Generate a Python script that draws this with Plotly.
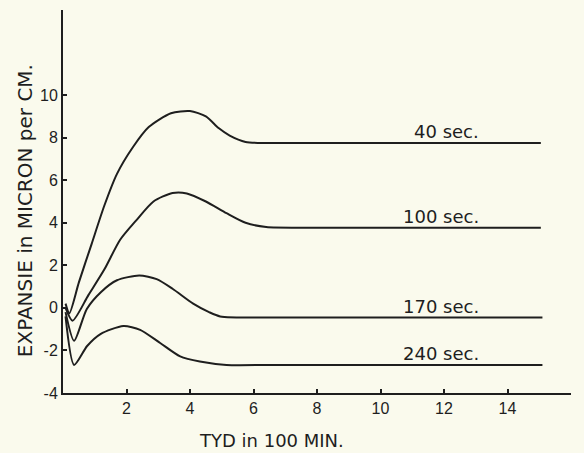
import plotly.graph_objects as go

# Series data (x in units of 100 min, y in micron per cm)
x_40 = [0.08, 0.2, 0.5, 0.9, 1.3, 1.7, 2.2, 2.7, 3.4, 4.0, 4.5, 4.9, 5.25, 5.75, 6.4, 8.0, 10.0, 12.0, 15.05]
y_40 = [0.2, -0.25, 1.2, 3.0, 4.8, 6.3, 7.55, 8.5, 9.15, 9.25, 9.0, 8.45, 8.1, 7.8, 7.75, 7.75, 7.75, 7.75, 7.75]

x_100 = [0.08, 0.3, 0.8, 1.3, 1.8, 2.3, 2.85, 3.45, 3.9, 4.5, 5.15, 5.75, 6.4, 8.0, 10.0, 12.0, 15.05]
y_100 = [0.0, -0.6, 0.6, 1.8, 3.2, 4.1, 5.0, 5.4, 5.38, 5.0, 4.45, 4.0, 3.8, 3.77, 3.77, 3.77, 3.77]

x_170 = [0.08, 0.35, 0.75, 1.2, 1.7, 2.4, 2.95, 3.45, 4.1, 4.6, 4.95, 6.5, 8.0, 10.0, 12.0, 15.1]
y_170 = [-0.2, -1.55, -0.05, 0.75, 1.3, 1.52, 1.35, 0.9, 0.2, -0.2, -0.4, -0.45, -0.45, -0.45, -0.45, -0.45]

x_240 = [0.08, 0.35, 0.76, 1.18, 1.9, 2.43, 3.06, 3.69, 4.31, 5.15, 6.5, 8.0, 10.0, 12.0, 15.1]
y_240 = [-0.4, -2.68, -1.79, -1.23, -0.85, -1.03, -1.65, -2.28, -2.52, -2.68, -2.68, -2.68, -2.68, -2.68, -2.68]

series_labels = ["40 sec.", "100 sec.", "170 sec.", "240 sec."]

x_tickvals = [2, 4, 6, 8, 10, 12, 14, 16]
x_ticktext = ["2", "4", "6", "8", "10", "12", "14", ""]
y_tickvals = [-4, -2, 0, 2, 4, 6, 8, 10]
y_ticktext = ["-4", "-2", "0", "2", "4", "6", "8", "10"]

x_title = "TYD in 100 MIN."
y_title = "EXPANSIE in MICRON per CM."

BG = "#fafaed"
INK = "#1e1e1e"

fig = go.Figure()
all_series = [(x_40, y_40), (x_100, y_100), (x_170, y_170), (x_240, y_240)]
for (xs, ys), name in zip(all_series, series_labels):
    fig.add_trace(go.Scatter(x=xs, y=ys, mode="lines", name=name,
                             line=dict(color=INK, width=2, shape="spline", smoothing=0.7),
                             showlegend=False, hoverinfo="skip"))
    fig.add_annotation(x=13.15, y=ys[-1], text=name, showarrow=False,
                       xanchor="right", yanchor="middle", yshift=11,
                       font=dict(family="DejaVu Sans", size=18, color=INK))

fig.add_annotation(xref="paper", yref="paper", x=0.41, y=-0.125, text=x_title,
                   showarrow=False, xanchor="center", yanchor="middle",
                   font=dict(family="DejaVu Sans", size=18, color=INK))
fig.add_annotation(xref="paper", yref="paper", x=-0.075, y=0.477, text=y_title,
                   showarrow=False, textangle=-90, xanchor="center", yanchor="middle",
                   font=dict(family="DejaVu Sans", size=20, color=INK))

fig.update_layout(
    width=584, height=453,
    margin=dict(l=63, r=13, t=10, b=60),
    paper_bgcolor=BG, plot_bgcolor=BG,
    xaxis=dict(range=[0, 16], showgrid=False, zeroline=False, showline=True,
               linecolor=INK, linewidth=2, ticks="inside", ticklen=4, tickwidth=1.5,
               tickcolor=INK, tickvals=x_tickvals, ticktext=x_ticktext,
               tickfont=dict(family="Liberation Sans", size=16, color=INK)),
    yaxis=dict(range=[-4, 14], showgrid=False, zeroline=False, showline=True,
               linecolor=INK, linewidth=2, ticks="inside", ticklen=4, tickwidth=1.5,
               tickcolor=INK, tickvals=y_tickvals, ticktext=y_ticktext,
               tickfont=dict(family="Liberation Sans", size=16, color=INK)),
)

fig.write_html(
    "out.html",
    config={"displayModeBar": False},
    post_script="document.body.style.margin='0';document.body.style.overflow='hidden';"
                "document.body.style.background='" + BG + "';",
)
